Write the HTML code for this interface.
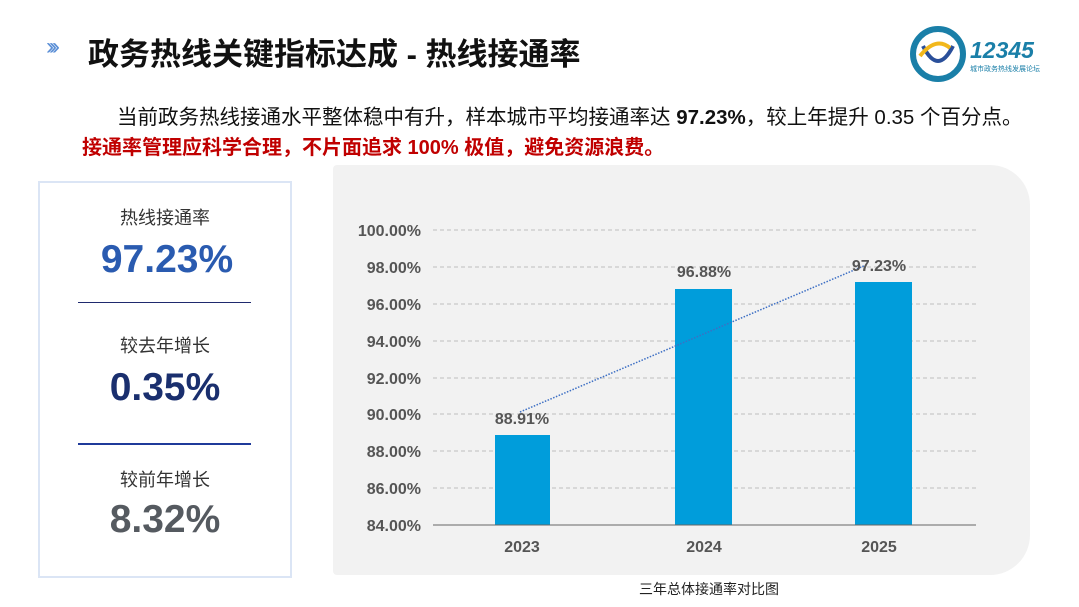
<!DOCTYPE html>
<html><head><meta charset="utf-8"><style>
body{margin:0;width:1079px;height:607px;background:#fff;position:relative;overflow:hidden;font-family:"Liberation Sans","Noto Sans CJK SC",sans-serif}
.a{position:absolute;white-space:nowrap}
</style></head><body>
<div class="a" style="left:46px;top:33px;font-size:24px;color:#5b8fd6;letter-spacing:-5px">›››</div>
<div class="a" style="left:88px;top:29px;font-size:31px;font-weight:bold;color:#111">政务热线关键指标达成 - 热线接通率</div>
<svg class="a" style="left:908px;top:26px" width="160" height="60">
<circle cx="30" cy="28" r="25" fill="none" stroke="#1a7fa8" stroke-width="6"/>
<path d="M15 20 Q30 50 45 20" fill="none" stroke="#2a4f9a" stroke-width="4"/>
<path d="M12 30 Q28 10 42 22" fill="none" stroke="#f2b81c" stroke-width="4"/>
<text x="62" y="32" font-size="23" font-weight="bold" font-style="italic" fill="#1a7fa8" font-family="Liberation Sans">12345</text>
<text x="62" y="45" font-size="7" fill="#1a7fa8" font-family="Noto Sans CJK SC">城市政务热线发展论坛</text>
</svg>
<div class="a" style="left:117px;top:100px;font-size:20.5px;color:#111">当前政务热线接通水平整体稳中有升，样本城市平均接通率达 <b>97.23%</b>，较上年提升 0.35 个百分点。</div>
<div class="a" style="left:82px;top:131px;font-size:20px;color:#c00000;font-weight:bold">接通率管理应科学合理，不片面追求 100% 极值，避免资源浪费。</div>
<div class="a" style="left:38px;top:181px;width:250px;height:393px;border:2px solid #dbe5f5"></div>
<div class="a" style="left:38px;width:254px;top:204px;text-align:center;font-size:18px;color:#333">热线接通率</div>
<div class="a" style="left:40px;width:254px;top:238px;text-align:center;font-size:39px;font-weight:bold;color:#2a5bb0">97.23%</div>
<div class="a" style="left:78px;top:302px;width:173px;height:1px;background:#1f2a6e"></div>
<div class="a" style="left:38px;width:254px;top:332px;text-align:center;font-size:18px;color:#333">较去年增长</div>
<div class="a" style="left:38px;width:254px;top:366px;text-align:center;font-size:39px;font-weight:bold;color:#1a2f6e">0.35%</div>
<div class="a" style="left:78px;top:443px;width:173px;height:2px;background:#1f3a9a"></div>
<div class="a" style="left:38px;width:254px;top:466px;text-align:center;font-size:18px;color:#333">较前年增长</div>
<div class="a" style="left:38px;width:254px;top:498px;text-align:center;font-size:39px;font-weight:bold;color:#555a60">8.32%</div>
<div class="a" style="left:333px;top:165px;width:697px;height:410px;background:#f2f2f2;border-radius:4px 40px 40px 4px"></div>
<svg class="a" style="left:0;top:0" width="1079" height="607" font-family="Liberation Sans" >
<g stroke="#bdbdbd" stroke-dasharray="4,3" stroke-width="1">
<line x1="433" x2="976" y1="230" y2="230"/><line x1="433" x2="976" y1="267" y2="267"/><line x1="433" x2="976" y1="304" y2="304"/><line x1="433" x2="976" y1="341" y2="341"/><line x1="433" x2="976" y1="378" y2="378"/><line x1="433" x2="976" y1="414" y2="414"/><line x1="433" x2="976" y1="451" y2="451"/><line x1="433" x2="976" y1="488" y2="488"/>
</g>
<g font-size="16" font-weight="bold" fill="#555" text-anchor="end">
<text x="421" y="236">100.00%</text><text x="421" y="273">98.00%</text><text x="421" y="310">96.00%</text><text x="421" y="347">94.00%</text><text x="421" y="384">92.00%</text><text x="421" y="420">90.00%</text><text x="421" y="457">88.00%</text><text x="421" y="494">86.00%</text><text x="421" y="531">84.00%</text>
</g>
<rect x="495" y="435" width="55" height="90" fill="#009ddb"/>
<rect x="675" y="289" width="57" height="236" fill="#009ddb"/>
<rect x="855" y="282" width="57" height="243" fill="#009ddb"/>
<line x1="433" x2="976" y1="525" y2="525" stroke="#666" stroke-width="1"/>
<line x1="520" y1="412" x2="866" y2="265" stroke="#3d6fc4" stroke-width="1.5" stroke-dasharray="1.5,1.5"/>
<g font-size="16" font-weight="bold" fill="#555" text-anchor="middle">
<text x="522" y="424">88.91%</text><text x="704" y="277">96.88%</text><text x="879" y="271">97.23%</text>
<text x="522" y="552">2023</text><text x="704" y="552">2024</text><text x="879" y="552">2025</text>
</g>
<text x="709" y="594" font-size="14" fill="#222" text-anchor="middle" font-family="Noto Sans CJK SC">三年总体接通率对比图</text>
</svg>
</body></html>
